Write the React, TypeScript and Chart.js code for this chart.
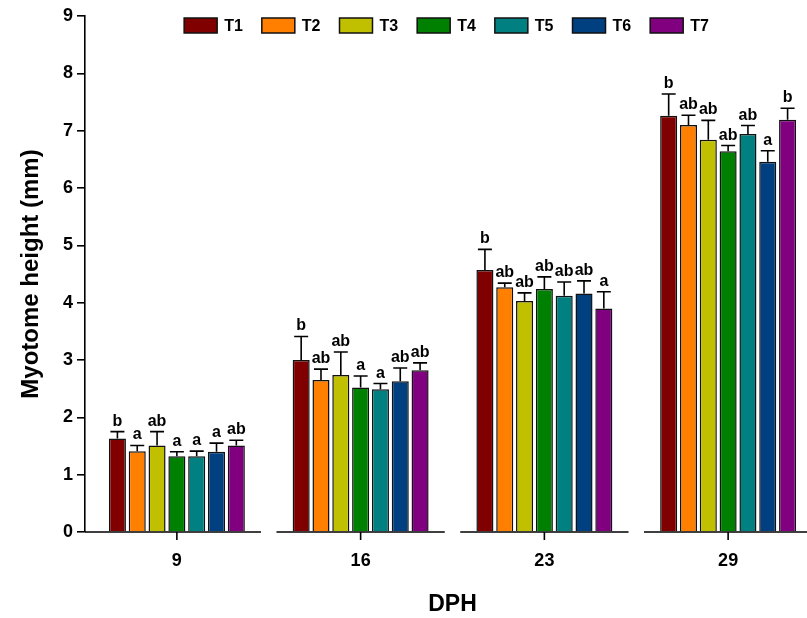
import React, { useEffect, useRef } from "react";
import { Chart, registerables } from "chart.js";

Chart.register(...registerables);

// ---- Data ----
const categories = ["9", "16", "23", "29"];
const seriesNames = ["T1", "T2", "T3", "T4", "T5", "T6", "T7"];

const T1 = [1.63, 3.0, 4.57, 7.26];
const T2 = [1.41, 2.65, 4.27, 7.1];
const T3 = [1.51, 2.74, 4.03, 6.84];
const T4 = [1.32, 2.52, 4.24, 6.64];
const T5 = [1.32, 2.49, 4.12, 6.94];
const T6 = [1.4, 2.63, 4.16, 6.46];
const T7 = [1.51, 2.82, 3.9, 7.19];

const T1_err = [0.12, 0.41, 0.36, 0.38];
const T2_err = [0.1, 0.19, 0.07, 0.17];
const T3_err = [0.24, 0.4, 0.14, 0.34];
const T4_err = [0.08, 0.2, 0.21, 0.1];
const T5_err = [0.09, 0.1, 0.24, 0.15];
const T6_err = [0.15, 0.23, 0.22, 0.19];
const T7_err = [0.09, 0.13, 0.29, 0.2];

const T1_sig = ["b", "b", "b", "b"];
const T2_sig = ["a", "ab", "ab", "ab"];
const T3_sig = ["ab", "ab", "ab", "ab"];
const T4_sig = ["a", "a", "ab", "ab"];
const T5_sig = ["a", "a", "ab", "ab"];
const T6_sig = ["a", "ab", "ab", "a"];
const T7_sig = ["ab", "ab", "a", "b"];

const yTicks = [0, 1, 2, 3, 4, 5, 6, 7, 8, 9];

const colors = ["#800000", "#FF8000", "#C0C000", "#008000", "#008080", "#003F80", "#800080"];

const values = [T1, T2, T3, T4, T5, T6, T7];
const errors = [T1_err, T2_err, T3_err, T4_err, T5_err, T6_err, T7_err];
const sigs = [T1_sig, T2_sig, T3_sig, T4_sig, T5_sig, T6_sig, T7_sig];

const FONT = "'Liberation Sans', Arial, Helvetica, sans-serif";

const errorBarPlugin = {
  id: "errorBars",
  afterDatasetsDraw(chart: any) {
    const ctx = chart.ctx;
    const yScale = chart.scales.y;
    ctx.save();
    chart.data.datasets.forEach((ds: any, i: number) => {
      const meta = chart.getDatasetMeta(i);
      meta.data.forEach((bar: any, j: number) => {
        const v = ds.data[j];
        const e = ds.errors[j];
        const yTop = yScale.getPixelForValue(v + e);
        ctx.strokeStyle = "#000";
        ctx.lineWidth = 1.6;
        ctx.beginPath();
        ctx.moveTo(bar.x, bar.y);
        ctx.lineTo(bar.x, yTop);
        ctx.moveTo(bar.x - 7, yTop);
        ctx.lineTo(bar.x + 7, yTop);
        ctx.stroke();
        ctx.fillStyle = "#000";
        ctx.font = `bold 16px ${FONT}`;
        ctx.textAlign = "center";
        ctx.textBaseline = "alphabetic";
        ctx.fillText(ds.sig[j], bar.x, yTop - 6);
      });
    });
    ctx.restore();
  },
};

const xAxisPlugin = {
  id: "brokenXAxis",
  afterDraw(chart: any) {
    const ctx = chart.ctx;
    const x = chart.scales.x;
    const area = chart.chartArea;
    const n = chart.data.labels.length;
    const cw = (x.right - x.left) / n;
    const half = cw * 0.458;
    ctx.save();
    ctx.strokeStyle = "#000";
    ctx.lineWidth = 1.6;
    for (let i = 0; i < n; i++) {
      const c = x.getPixelForValue(i);
      const x0 = i === 0 ? area.left : c - half;
      const x1 = c + half;
      ctx.beginPath();
      ctx.moveTo(x0, area.bottom);
      ctx.lineTo(x1, area.bottom);
      ctx.moveTo(c, area.bottom);
      ctx.lineTo(c, area.bottom + 8);
      ctx.stroke();
    }
    ctx.restore();
  },
};

const legendPlugin = {
  id: "customLegend",
  afterDraw(chart: any) {
    const ctx = chart.ctx;
    const area = chart.chartArea;
    const boxW = 33;
    const boxH = 15;
    const gapText = 7;
    const gapItem = 19;
    ctx.save();
    ctx.font = `bold 16px ${FONT}`;
    const items = chart.data.datasets.map((ds: any) => ({
      label: ds.label,
      color: ds.backgroundColor,
      tw: ctx.measureText(ds.label).width,
    }));
    const total =
      items.reduce((s: number, it: any) => s + boxW + gapText + it.tw, 0) + gapItem * (items.length - 1);
    let xPos = (area.left + area.right) / 2 - 6 - total / 2;
    const yTop = area.top + 2;
    items.forEach((it: any) => {
      ctx.fillStyle = it.color;
      ctx.fillRect(xPos, yTop, boxW, boxH);
      ctx.strokeStyle = "#111";
      ctx.lineWidth = 1.5;
      ctx.strokeRect(xPos, yTop, boxW, boxH);
      ctx.fillStyle = "#000";
      ctx.textAlign = "left";
      ctx.textBaseline = "middle";
      ctx.fillText(it.label, xPos + boxW + gapText, yTop + boxH / 2 + 1);
      xPos += boxW + gapText + it.tw + gapItem;
    });
    ctx.restore();
  },
};

export default function App() {
  const canvasRef = useRef<HTMLCanvasElement | null>(null);

  useEffect(() => {
    if (!canvasRef.current) return;
    const chart = new Chart(canvasRef.current, {
      type: "bar",
      data: {
        labels: categories,
        datasets: seriesNames.map((name, i) => ({
          label: name,
          data: values[i],
          errors: errors[i],
          sig: sigs[i],
          backgroundColor: colors[i],
          borderColor: "#111",
          borderWidth: 1.5,
          categoryPercentage: 0.755,
          barPercentage: 0.86,
        })) as any,
      },
      options: {
        responsive: false,
        animation: false,
        devicePixelRatio: 1,
        layout: { padding: { top: 16, right: 0, left: 0, bottom: 0 } },
        plugins: {
          legend: { display: false },
          tooltip: { enabled: false },
        },
        scales: {
          x: {
            type: "category",
            grid: { display: false, drawTicks: false },
            border: { display: false },
            ticks: {
              color: "#000",
              font: { family: FONT, size: 18, weight: "bold" },
              padding: 18,
            },
            title: {
              display: true,
              text: "DPH",
              color: "#000",
              font: { family: FONT, size: 23, weight: "bold" },
              padding: { top: 0, bottom: 0 },
            },
            afterFit(scale: any) {
              scale.height = 86;
            },
          },
          y: {
            min: 0,
            max: 9,
            afterBuildTicks(scale: any) {
              scale.ticks = yTicks.map((v) => ({ value: v }));
            },
            grid: {
              display: true,
              drawOnChartArea: false,
              drawTicks: true,
              tickLength: 8,
              color: "#000",
              lineWidth: 1.6,
            },
            border: { display: true, color: "#000", width: 1.6 },
            ticks: {
              color: "#000",
              font: { family: FONT, size: 18, weight: "bold" },
              padding: 4,
            },
            title: {
              display: true,
              text: "Myotome height (mm)",
              color: "#000",
              font: { family: FONT, size: 24, weight: "bold" },
              padding: { top: 17, bottom: 0 },
            },
            afterFit(scale: any) {
              scale.width = 85;
            },
          },
        },
      } as any,
      plugins: [errorBarPlugin, xAxisPlugin, legendPlugin],
    });
    return () => chart.destroy();
  }, []);

  return (
    <div
      style={{
        position: "fixed",
        left: 0,
        top: 0,
        width: 807,
        height: 618,
        overflow: "hidden",
        background: "#fff",
      }}
    >
      <canvas ref={canvasRef} width={820} height={618} style={{ display: "block" }} />
    </div>
  );
}
